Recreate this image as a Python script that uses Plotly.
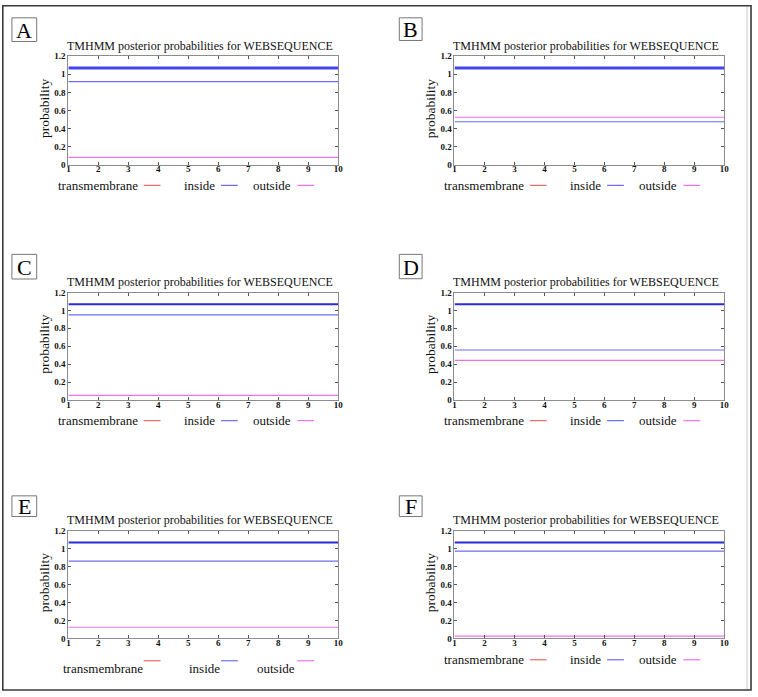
import plotly.graph_objects as go

W, H = 758, 697

# ---------------- data ----------------
panel_labels = ["A", "B", "C", "D", "E", "F"]
positions = [1, 2, 3, 4, 5, 6, 7, 8, 9, 10]
x_tick_labels = ["1", "2", "3", "4", "5", "6", "7", "8", "9", "10"]
y_tick_values = [0, 0.2, 0.4, 0.6, 0.8, 1, 1.2]
y_tick_labels = ["0", "0.2", "0.4", "0.6", "0.8", "1", "1.2"]

topology_A = [1.07, 1.07, 1.07, 1.07, 1.07, 1.07, 1.07, 1.07, 1.07, 1.07]
inside_A = [0.92, 0.92, 0.92, 0.92, 0.92, 0.92, 0.92, 0.92, 0.92, 0.92]
outside_A = [0.08, 0.08, 0.08, 0.08, 0.08, 0.08, 0.08, 0.08, 0.08, 0.08]

topology_B = [1.07, 1.07, 1.07, 1.07, 1.07, 1.07, 1.07, 1.07, 1.07, 1.07]
inside_B = [0.475, 0.475, 0.475, 0.475, 0.475, 0.475, 0.475, 0.475, 0.475, 0.475]
outside_B = [0.525, 0.525, 0.525, 0.525, 0.525, 0.525, 0.525, 0.525, 0.525, 0.525]

topology_C = [1.07, 1.07, 1.07, 1.07, 1.07, 1.07, 1.07, 1.07, 1.07, 1.07]
inside_C = [0.95, 0.95, 0.95, 0.95, 0.95, 0.95, 0.95, 0.95, 0.95, 0.95]
outside_C = [0.05, 0.05, 0.05, 0.05, 0.05, 0.05, 0.05, 0.05, 0.05, 0.05]

topology_D = [1.07, 1.07, 1.07, 1.07, 1.07, 1.07, 1.07, 1.07, 1.07, 1.07]
inside_D = [0.558, 0.558, 0.558, 0.558, 0.558, 0.558, 0.558, 0.558, 0.558, 0.558]
outside_D = [0.442, 0.442, 0.442, 0.442, 0.442, 0.442, 0.442, 0.442, 0.442, 0.442]

topology_E = [1.068, 1.068, 1.068, 1.068, 1.068, 1.068, 1.068, 1.068, 1.068, 1.068]
inside_E = [0.86, 0.86, 0.86, 0.86, 0.86, 0.86, 0.86, 0.86, 0.86, 0.86]
outside_E = [0.125, 0.125, 0.125, 0.125, 0.125, 0.125, 0.125, 0.125, 0.125, 0.125]

topology_F = [1.068, 1.068, 1.068, 1.068, 1.068, 1.068, 1.068, 1.068, 1.068, 1.068]
inside_F = [0.973, 0.973, 0.973, 0.973, 0.973, 0.973, 0.973, 0.973, 0.973, 0.973]
outside_F = [0.026, 0.026, 0.026, 0.026, 0.026, 0.026, 0.026, 0.026, 0.026, 0.026]

topology = [topology_A, topology_B, topology_C, topology_D, topology_E, topology_F]
inside = [inside_A, inside_B, inside_C, inside_D, inside_E, inside_F]
outside = [outside_A, outside_B, outside_C, outside_D, outside_E, outside_F]

title_text = "TMHMM posterior probabilities for WEBSEQUENCE"
y_title = "probability"
legend_names = ["transmembrane", "inside", "outside"]

# ---------------- layout geometry (pixels) ----------------
col_left = [67, 456.7]
col_right = [339.3, 729]
row_top = [52, 291.7, 533.3]
row_bottom = [162, 400.7, 642.7]
label_boxes = [(10, 13, 35, 37), (401, 13, 424, 36),
               (10, 253, 35, 278), (401, 253, 424, 277.7),
               (10, 498, 35, 519), (401, 498, 424, 519)]

SERIF = "Liberation Serif, Times New Roman, serif"
C_TM = "#e86a6a"
C_IN = "#6c6cf2"
C_OUT = "#ee72ee"
C_TOP_ROW = ["#4444ea", "#2a2ad6", "#2a2ad6"]
TOP_W_ROW = [3, 2, 2]
FRAME = "#8c8c8c"


def px(x):
    return x / W


def py(y):
    return 1 - y / H


fig = go.Figure()
shapes = []
annotations = []

for i in range(6):
    r, c = divmod(i, 2)
    n = i + 1
    xa = "x" if n == 1 else f"x{n}"
    ya = "y" if n == 1 else f"y{n}"
    fig.add_trace(go.Scatter(x=positions, y=topology[i], mode="lines",
                             line=dict(color=C_TOP_ROW[r], width=TOP_W_ROW[r]),
                             xaxis=xa, yaxis=ya, showlegend=False, hoverinfo="skip"))
    fig.add_trace(go.Scatter(x=positions, y=inside[i], mode="lines",
                             line=dict(color=C_IN, width=1.2),
                             xaxis=xa, yaxis=ya, showlegend=False))
    fig.add_trace(go.Scatter(x=positions, y=outside[i], mode="lines",
                             line=dict(color=C_OUT, width=1.2),
                             xaxis=xa, yaxis=ya, showlegend=False))

    L, R = col_left[c], col_right[c]
    T, B = row_top[r], row_bottom[r]
    axis_common = dict(showline=True, linecolor=FRAME, linewidth=1, mirror="allticks",
                       ticks="inside", ticklen=3, tickcolor="#555", tickwidth=1,
                       showgrid=False, zeroline=False, fixedrange=True,
                       tickfont=dict(family=SERIF, size=9, color="#111", weight="bold"))
    xkey = "xaxis" if n == 1 else f"xaxis{n}"
    ykey = "yaxis" if n == 1 else f"yaxis{n}"
    fig.update_layout(**{
        xkey: dict(domain=[px(L), px(R)], anchor=ya, range=[1, 10],
                   tickmode="array", tickvals=positions, ticktext=x_tick_labels,
                   ticklabelstandoff=-4, **axis_common),
        ykey: dict(domain=[py(B), py(T)], anchor=xa, range=[0, 1.2],
                   tickmode="array", tickvals=y_tick_values, ticktext=y_tick_labels,
                   **axis_common),
    })

    # title
    annotations.append(dict(text=title_text, x=px((L + R) / 2 - 3), y=py(T - 10.5),
                            xref="paper", yref="paper", showarrow=False,
                            xanchor="center", yanchor="middle",
                            font=dict(family=SERIF, size=12, color="#111")))
    # y-axis title
    annotations.append(dict(text=y_title, x=px(L - 24), y=py((T + B) / 2 - 2),
                            xref="paper", yref="paper", showarrow=False, textangle=-90,
                            xanchor="center", yanchor="middle",
                            font=dict(family=SERIF, size=13.5, color="#111")))
    # panel label box
    bx0, by0, bx1, by1 = label_boxes[i]
    shapes.append(dict(type="rect", xref="paper", yref="paper",
                       x0=px(bx0), x1=px(bx1), y0=py(by1), y1=py(by0),
                       line=dict(color="#777", width=1), fillcolor="white"))
    annotations.append(dict(text=panel_labels[i], x=px((bx0 + bx1) / 2), y=py((by0 + by1) / 2 + 0.5),
                            xref="paper", yref="paper", showarrow=False,
                            xanchor="center", yanchor="middle",
                            font=dict(family=SERIF, size=22, color="#000")))

    # legend: text followed by a short line segment
    line_starts = [L + 76, L + 154, L + 231]
    colors = [C_TM, C_IN, C_OUT]
    if i == 4:
        text_y = B + 30
        line_y = B + 22.6
        gaps = [-1, -1, 0]
    else:
        text_y = B + 21 if r < 2 else B + 21.6
        line_y = text_y
        gaps = [4, 4, 4]
    for k in range(3):
        ls = line_starts[k]
        annotations.append(dict(text=legend_names[k], x=px(ls - gaps[k]), y=py(text_y),
                                xref="paper", yref="paper", showarrow=False,
                                xanchor="right", yanchor="middle",
                                font=dict(family=SERIF, size=13, color="#111")))
        shapes.append(dict(type="line", xref="paper", yref="paper",
                           x0=px(ls), x1=px(ls + 17), y0=py(line_y), y1=py(line_y),
                           line=dict(color=colors[k], width=1.2)))

# outer frame
shapes.append(dict(type="line", xref="paper", yref="paper", x0=px(752), x1=px(752),
                   y0=py(1), y1=py(695), line=dict(color="#c8c8c8", width=1)))
shapes.append(dict(type="rect", xref="paper", yref="paper",
                   x0=px(0.8), x1=px(756), y0=py(695), y1=py(0.8),
                   line=dict(color="#3a3a3a", width=1.6)))

fig.update_layout(width=W, height=H, margin=dict(l=0, r=0, t=0, b=0),
                  paper_bgcolor="white", plot_bgcolor="white",
                  shapes=shapes, annotations=annotations, showlegend=False)

fig.write_html("out.html", config={"displayModeBar": False},
               post_script="document.body.style.margin='0';document.body.style.padding='0';"
                           "document.documentElement.style.margin='0';")
